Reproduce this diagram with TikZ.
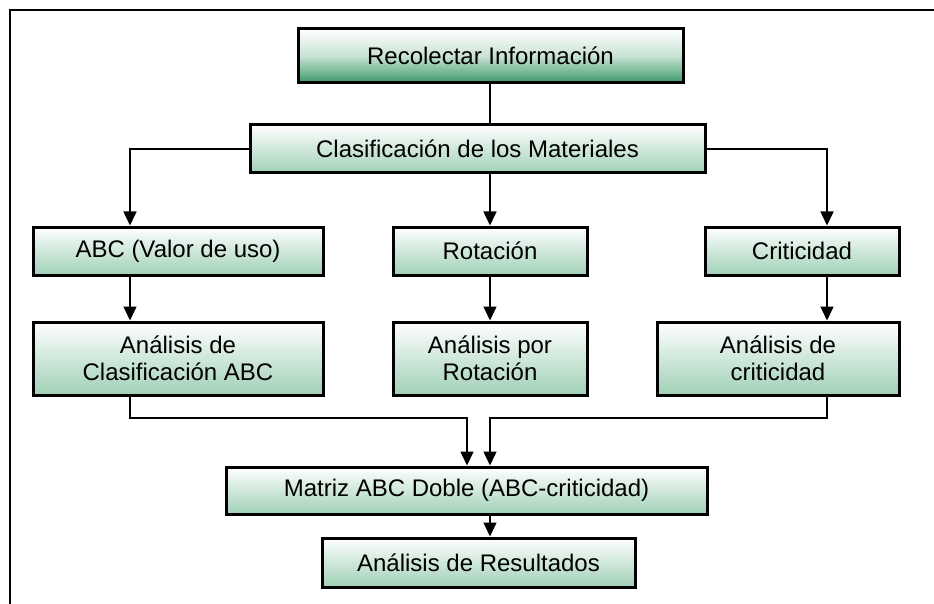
\documentclass[tikz,border=0pt]{standalone}
\usepackage{fontspec}
\setmainfont{Liberation Sans}
\usetikzlibrary{arrows.meta}
\definecolor{darkg}{RGB}{58,154,104}
\definecolor{lightg}{RGB}{160,208,182}
\tikzset{
  boxbase/.style={draw=black, line width=3pt, inner sep=0pt, align=center,
    font=\fontsize{24}{27}\selectfont},
  lbox/.style={boxbase, top color=white, bottom color=lightg},
  dbox/.style={boxbase, top color=white, bottom color=darkg, middle color={rgb,255:red,200;green,226;blue,212}},
  conn/.style={line width=1.5pt, draw=black},
  arr/.style={conn, -{Triangle[length=14pt,width=13pt]}},
}
\newcommand{\bx}[7]{% name, style, l, r, t, b, text
  \node[#2, minimum width={(#4)-(#3)}, minimum height={(#6)-(#5)}] (#1) at ({((#3)+(#4))/2},{((#5)+(#6))/2}) {#7};}
\begin{document}
\begin{tikzpicture}[x=1pt,y=-1pt]
\useasboundingbox (0,0) rectangle (934,604);
\fill[white] (0,0) rectangle (934,604);
% frame
\draw[line width=2.5pt] (10,606) -- (10,10) -- (936,10);
% boxes
\bx{rec}{dbox}{298}{683}{29}{83}{Recolectar Información}
\bx{cla}{lbox}{250}{705}{125}{173}{Clasificación de los Materiales}
\bx{abc}{lbox}{33}{323}{227}{275}{ABC (Valor de uso)}
\bx{rot}{lbox}{393}{587}{227}{275}{Rotación}
\bx{cri}{lbox}{705}{899}{227}{275}{Criticidad}
\bx{aabc}{lbox}{33}{323}{322}{395}{Análisis de\\Clasificación ABC}
\bx{arot}{lbox}{393}{587}{322}{395}{Análisis por\\Rotación}
\bx{acri}{lbox}{657}{899}{322}{395}{Análisis de\\criticidad}
\bx{mat}{lbox}{226}{707}{467}{514}{Matriz ABC Doble (ABC-criticidad)}
\bx{res}{lbox}{322}{635}{538}{587}{Análisis de Resultados}
% coordinates
\coordinate (xl) at (130,0);
\coordinate (xm) at (490,0);
\coordinate (xr) at (827,0);
\coordinate (xa) at (467,0);
\coordinate (yj) at (0,418);
% connectors
\draw[conn] (xm |- rec.south) -- (xm |- cla.north);
\draw[arr] (cla.west) -| (xl |- abc.north);
\draw[arr] (xm |- cla.south) -- (xm |- rot.north);
\draw[arr] (cla.east) -| (xr |- cri.north);
\draw[arr] (xl |- abc.south) -- (xl |- aabc.north);
\draw[arr] (xm |- rot.south) -- (xm |- arot.north);
\draw[arr] (xr |- cri.south) -- (xr |- acri.north);
\draw[arr] (xl |- aabc.south) -- (xl |- yj) -| (xa |- mat.north);
\draw[arr] (xr |- acri.south) -- (xr |- yj) -| (xm |- mat.north);
\draw[arr] (xm |- mat.south) -- (xm |- res.north);
\end{tikzpicture}
\end{document}
